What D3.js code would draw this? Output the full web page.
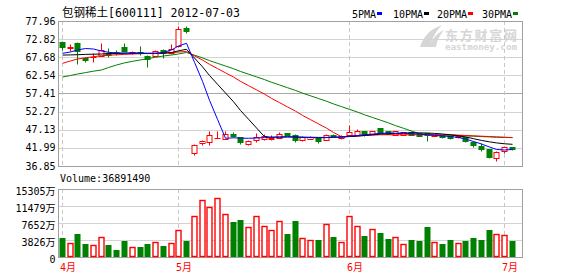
<!DOCTYPE html>
<html>
<head>
<meta charset="utf-8">
<script src="https://cdn.jsdelivr.net/npm/d3@7"></script>
<style>
body{margin:0;background:#fff;}
svg{display:block;}
text{font-family:"DejaVu Sans Mono","Noto Sans CJK SC",monospace;}
</style>
</head>
<body>
<svg id="chart" width="578" height="276"></svg>
<script>
// daily candles, 2012-04 .. 2012-07-03
const opens = [72.09,70.22,71.7,67.38,67.7,68.04,69.0,69.17,70.67,68.8,69.17,68.04,68.04,69.74,68.8,70.87,75.89,
    40.54,43.28,43.65,44.79,44.59,45.9,44.99,43.17,44.31,44.59,44.6,44.79,46.21,45.72,44.22,44.59,44.79,44.31,45.72,44.79,45.55,
    45.64,46.77,45.92,47.54,46.77,45.64,45.64,46.57,46.12,46.12,45.36,45.64,45.36,45.07,45.07,43.74,42.52,41.59,39.03,41.19,42.15];
const highs = [72.3,71.35,71.9,67.84,68.8,71.64,70.22,69.74,71.64,69.5,70.87,68.3,69.6,70.0,71.35,76.54,76.54,
    43.0,44.31,46.69,46.69,46.69,46.5,45.1,44.2,46.21,45.92,45.72,46.49,46.3,45.8,45.3,45.4,44.9,45.9,45.8,45.5,48.39,
    47.34,46.86,46.9,47.6,46.86,46.9,46.6,46.7,46.2,46.2,46.0,45.7,45.45,45.5,45.1,43.8,43.28,41.7,41.0,42.52,42.2];
const lows = [69.74,69.54,65.8,66.42,66.42,68.0,67.84,68.32,69.3,68.6,68.41,65.0,67.9,67.38,68.7,70.67,74.64,
    40.05,42.72,42.72,44.75,44.5,45.1,43.09,42.72,43.65,44.22,44.31,44.7,45.6,43.65,44.0,44.4,43.3,44.2,45.1,44.6,45.4,
    45.5,45.36,45.8,46.2,45.8,45.5,45.5,45.5,45.27,43.85,45.27,44.9,44.6,44.9,43.65,42.15,41.19,39.2,38.35,40.45,41.5];
const closes = [70.67,70.67,69.4,66.9,67.85,69.74,68.45,68.89,69.54,69.26,68.9,67.19,69.45,68.8,69.94,75.69,75.21,
    42.89,43.85,45.55,44.85,45.92,45.3,43.65,44.02,44.99,45.27,44.9,45.92,45.72,44.31,45.16,45.16,43.85,45.72,45.27,45.36,46.49,
    46.77,45.92,46.77,46.29,45.92,46.77,46.49,45.64,45.36,45.72,45.92,44.99,44.70,45.36,44.02,42.80,41.59,39.49,40.90,42.15,41.67];
// volume in 万 shares
const volumes = [4344,3220,5250,2990,2700,4500,2770,1650,3670,2250,2320,2990,3440,2540,3220,6150,3510,
    9300,12900,11250,13350,9750,7950,8400,6750,9300,6980,6080,8100,5240,8170,4280,3830,3890,7500,4570,3440,9300,
    7050,4800,6370,5320,4120,4570,2990,3890,3670,6820,3440,2990,3890,3220,3670,4340,3890,6150,5240,5020,3689];

const ma5 = [68.80,69.17,69.74,70.16,70.02,69.45,69.09,68.89,68.89,68.89,68.80,68.75,68.75,69.03,69.74,70.87,71.64,
    66.25,60.86,55.48,50.09,44.70,44.85,44.75,44.70,44.80,44.90,45.00,45.10,45.20,45.10,45.00,44.90,44.85,44.90,45.00,45.10,45.30,
    45.50,45.70,45.90,46.10,46.20,46.10,46.10,46.00,45.90,45.70,45.50,45.36,45.21,44.93,44.51,43.80,43.09,42.24,41.53,41.39,41.53];
const ma10 = [68.30,68.35,68.40,68.50,68.55,68.60,68.70,68.75,68.80,68.85,68.85,68.80,68.80,68.85,69.00,69.50,69.94,
    67.46,64.98,62.51,60.03,57.55,55.07,52.59,50.12,47.64,45.16,45.00,45.00,45.05,45.05,45.00,45.00,44.95,44.95,45.00,45.00,
    45.20,45.30,45.50,45.70,45.90,46.00,46.10,46.20,46.25,46.25,46.20,46.10,45.92,45.70,45.40,45.10,44.60,44.10,43.70,43.40,43.15,43.00];
const ma20 = [65.97,66.62,67.19,67.53,67.84,68.12,68.26,68.38,68.49,68.60,68.69,68.77,68.83,68.89,69.00,69.17,69.31,
    68.09,66.89,65.68,64.47,63.27,62.06,60.85,59.64,58.44,57.23,56.02,54.82,53.61,52.40,51.20,49.99,48.78,47.58,46.37,45.16,
    45.30,45.40,45.50,45.60,45.70,45.70,45.70,45.70,45.70,45.70,45.70,45.70,45.70,45.70,45.60,45.50,45.40,45.30,45.20,45.10,45.00,44.90];
const ma30 = [62.08,62.51,62.93,63.33,63.73,64.07,64.77,65.48,66.08,66.53,66.93,67.30,67.67,68.04,68.32,68.60,69.03,
    68.26,67.50,66.73,65.96,65.19,64.43,63.66,62.89,62.12,61.35,60.59,59.82,59.05,58.28,57.52,56.75,55.98,55.21,54.45,53.68,
    52.91,52.14,51.37,50.61,49.84,49.07,48.30,47.54,46.77,46.00,45.80,45.70,45.60,45.55,45.50,45.40,45.30,45.20,45.10,45.00,44.95,44.90];

const monthLabels = ["4月","5月","6月","7月"];
const monthStart = [0, 15, 37, 57];
const priceTicks = [77.96,72.82,67.68,62.54,57.41,52.27,47.13,41.99,36.85];
const volumeTicks = [0,3826,7652,11479,15305];
const maNames = ["5PMA","10PMA","20PMA","30PMA"];
const maColors = ["#0000ff","#000000","#ff0000","#008000"];

const up = "#ff0000", down = "#008000";
const frame = {left:58, right:522, top:21, bottom:166};
const vframe = {top:189, bottom:257};

const svg = d3.select("#chart");

const x = d3.scaleBand()
    .domain(d3.range(closes.length))
    .range([57.1, 516.7])
    .padding(0.25);
const cx = i => Math.round(x(i) + x.bandwidth()/2);

const y = d3.scaleLinear().domain([36.85, 77.96]).range([frame.bottom, frame.top]);
const yv = d3.scaleLinear().domain([0, 15305]).range([vframe.bottom, vframe.top]);
const px = v => Math.round(v) + 0.5;

// title
svg.append("text")
    .attr("x", 62).attr("y", 17)
    .attr("font-size", 12)
    .attr("textLength", 178)
    .attr("lengthAdjust", "spacingAndGlyphs")
    .attr("fill", "#000")
    .text("包钢稀土[600111] 2012-07-03");

// legend
const legendX = [352, 393, 437, 482];
maNames.forEach((name, k) => {
    svg.append("text")
        .attr("x", legendX[k]).attr("y", 18)
        .attr("font-size", 10)
        .text(name);
    svg.append("rect")
        .attr("x", legendX[k] + name.length*6 + 1).attr("y", 12)
        .attr("width", 5).attr("height", 3)
        .attr("fill", maColors[k]);
});

// watermark
const wm = svg.append("g").attr("fill", "#d6d6d6");
wm.append("path").attr("d", "M420,47 C423,37 430,29 442,25 C436,31 432,38 430,47 Z");
wm.append("path").attr("d", "M429,47 C432,39 437,33 444,30 C440,35 437,40 436,47 Z");
wm.append("text")
    .attr("x", 445).attr("y", 40)
    .attr("font-size", 13).attr("font-weight", "bold")
    .attr("font-family", "Noto Sans CJK SC")
    .attr("textLength", 72)
    .text("东方财富网");
wm.append("text")
    .attr("x", 445).attr("y", 50)
    .attr("font-size", 8).attr("font-weight", "bold")
    .attr("font-family", "Liberation Sans")
    .attr("textLength", 72)
    .attr("lengthAdjust", "spacingAndGlyphs")
    .text("eastmoney.com");

// price grid
priceTicks.forEach((t, k) => {
    if (k > 0 && k < priceTicks.length - 1) {
        svg.append("line")
            .attr("x1", frame.left).attr("x2", frame.right)
            .attr("y1", px(y(t))).attr("y2", px(y(t)))
            .attr("stroke", k == 4 ? "#a8a8a8" : "#d3d3d3");
    }
    svg.append("text")
        .attr("x", 55.5).attr("y", y(t) + 3.5)
        .attr("text-anchor", "end")
        .attr("font-size", 10)
        .text(t.toFixed(2));
});

// volume grid
volumeTicks.forEach((t, k) => {
    if (k > 0 && k < volumeTicks.length - 1) {
        svg.append("line")
            .attr("x1", frame.left).attr("x2", frame.right)
            .attr("y1", px(yv(t))).attr("y2", px(yv(t)))
            .attr("stroke", "#d3d3d3");
    }
    svg.append("text")
        .attr("x", 55.5).attr("y", yv(t) + 6)
        .attr("text-anchor", "end")
        .attr("font-size", 10)
        .text(t == 0 ? "0" : t + "万");
});

// month separators + labels
monthStart.forEach((s, k) => {
    const mx = cx(s) + 0.5;
    [[frame.top, frame.bottom], [vframe.top, vframe.bottom]].forEach(r => {
        svg.append("line")
            .attr("x1", mx).attr("x2", mx)
            .attr("y1", r[0]).attr("y2", r[1])
            .attr("stroke", "#c8c8c8")
            .attr("stroke-dasharray", "4,3");
    });
    svg.append("text")
        .attr("x", cx(s) - 2).attr("y", 271)
        .attr("font-size", 10)
        .attr("fill", "#ff0000")
        .text(monthLabels[k]);
});

// frames
[[frame.top, frame.bottom], [vframe.top, vframe.bottom]].forEach(r => {
    svg.append("rect")
        .attr("x", frame.left + 0.5).attr("y", r[0] + 0.5)
        .attr("width", frame.right - frame.left).attr("height", r[1] - r[0])
        .attr("fill", "none")
        .attr("stroke", "#a0a0a0");
});

svg.append("text")
    .attr("x", 60).attr("y", 182)
    .attr("font-size", 10)
    .text("Volume:" + 36891490);

// candles
const candles = svg.append("g");
closes.forEach((c, i) => {
    const o = opens[i];
    const col = c >= o ? up : down;
    const xc = cx(i) + 0.5;
    candles.append("line")
        .attr("x1", xc).attr("x2", xc)
        .attr("y1", px(y(highs[i]))).attr("y2", px(y(lows[i])))
        .attr("stroke", col);
    const top = px(y(Math.max(o, c))), bot = px(y(Math.min(o, c)));
    candles.append("rect")
        .attr("x", xc - 2.5).attr("y", top)
        .attr("width", 5).attr("height", Math.max(bot - top, 0.01))
        .attr("fill", c >= o ? "#fff" : down)
        .attr("stroke", col);
});

// moving averages
[ma30, ma20, ma10, ma5].forEach((m, k) => {
    svg.append("path")
        .datum(m)
        .attr("fill", "none")
        .attr("stroke", maColors[3 - k])
        .attr("stroke-width", 1)
        .attr("d", d3.line().x((d, i) => cx(i) + 0.5).y(d => y(d)));
});

// volume bars
const vbars = svg.append("g");
volumes.forEach((v, i) => {
    const isUp = closes[i] >= opens[i];
    const xc = cx(i) + 0.5;
    vbars.append("rect")
        .attr("x", xc - 2.5).attr("y", px(yv(v)))
        .attr("width", 5).attr("height", px(yv(0)) - px(yv(v)) - 1)
        .attr("fill", isUp ? "#fff" : down)
        .attr("stroke", isUp ? up : down)
        .attr("stroke-width", isUp ? 1.4 : 1);
});
</script>
</body>
</html>
